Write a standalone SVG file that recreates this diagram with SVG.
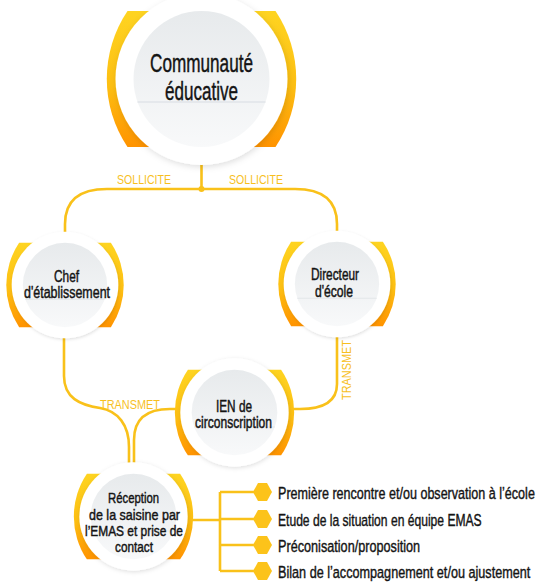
<svg xmlns="http://www.w3.org/2000/svg" xmlns:xlink="http://www.w3.org/1999/xlink" width="537" height="582" viewBox="0 0 537 582">
<style>
.ln{fill:none;stroke:#f9c11a;stroke-width:2.6}
.t{font-family:"Liberation Sans","Noto Sans",Arial,sans-serif;fill:#141414;stroke:#141414;stroke-width:0.45;text-anchor:middle}
.lab{font-family:"Liberation Sans","Noto Sans",Arial,sans-serif;fill:#f7bf1e;font-size:12.5px;text-anchor:middle}
.li{font-family:"Liberation Sans","Noto Sans",Arial,sans-serif;fill:#141414;stroke:#141414;stroke-width:0.4;font-size:16.5px}
.hex{fill:#fcc31a}
</style>
<defs>
<linearGradient id="gy" x1="0" y1="0" x2="0" y2="1">
<stop offset="0" stop-color="#fed421"/>
<stop offset="0.55" stop-color="#fdbf12"/>
<stop offset="1" stop-color="#ff9300"/>
</linearGradient>
<linearGradient id="gg" x1="0" y1="0" x2="0" y2="1">
<stop offset="0" stop-color="#e7eaec"/>
<stop offset="1" stop-color="#f8f9fa"/>
</linearGradient>
<filter id="sh" x="-30%" y="-30%" width="160%" height="160%">
<feDropShadow dx="1" dy="2" stdDeviation="3" flood-color="#000" flood-opacity="0.13"/>
</filter>
<g id="bubble">
<path d="M -74,-68 A 122 122 0 0 0 -74,68 L 0,68 L 0,-68 Z" fill="url(#gy)"/>
<path d="M 74,-68 A 122 122 0 0 1 74,68 L 0,68 L 0,-68 Z" fill="url(#gy)"/>
<circle r="86" fill="#ffffff" filter="url(#sh)"/>
<circle r="68" fill="url(#gg)"/>
<line x1="-64" y1="23" x2="64" y2="23" stroke="#e1e5e8" stroke-width="1.5"/>
</g>
</defs>
<rect width="537" height="582" fill="#ffffff"/>

<g id="connectors">
<path class="ln" d="M201.5,150 V189"/>
<path class="ln" d="M65,240 V224 C65,200 80,189 107,189 H295 C322,189 337,200 337,224 V240"/>
<circle cx="201.5" cy="189" r="3" fill="#f9c11a"/>
<path class="ln" d="M64,320 V376 C64,398 80,405 100,408 C118,411 129,425 129,447 V475"/>
<path class="ln" d="M200,409 H170 C148,409 134,418 134,440 V475"/>
<path class="ln" d="M337,330 V384 C337,401 325,409 300,409 H270"/>
<path class="ln" d="M170,520 H220 M220,492 V571 M220,492 H255 M220,519 H255 M220,545 H255 M220,571 H255"/>
</g>

<g id="labels">
<text class="lab" x="144" y="184" textLength="54" lengthAdjust="spacingAndGlyphs">SOLLICITE</text>
<text class="lab" x="256" y="184" textLength="54" lengthAdjust="spacingAndGlyphs">SOLLICITE</text>
<text class="lab" x="130" y="409" textLength="60" lengthAdjust="spacingAndGlyphs">TRANSMET</text>
<text class="lab" transform="translate(351,370) rotate(-90)" x="0" y="0" textLength="60" lengthAdjust="spacingAndGlyphs">TRANSMET</text>
</g>

<g id="node-communaute" transform="translate(201.5,79)">
<use xlink:href="#bubble" href="#bubble"/>
<text class="t" x="0" y="-7" font-size="26" stroke-width="0.6" textLength="103" lengthAdjust="spacingAndGlyphs">Communauté</text>
<text class="t" x="0" y="21" font-size="26" stroke-width="0.6" textLength="73" lengthAdjust="spacingAndGlyphs">éducative</text>
</g>

<g id="node-chef" transform="translate(65,285)">
<use xlink:href="#bubble" href="#bubble" transform="scale(0.62)"/>
<text class="t" x="1.5" y="-3.5" font-size="16" textLength="25" lengthAdjust="spacingAndGlyphs">Chef</text>
<text class="t" x="2" y="12.5" font-size="16" textLength="86" lengthAdjust="spacingAndGlyphs">d'établissement</text>
</g>

<g id="node-directeur" transform="translate(337,284)">
<use xlink:href="#bubble" href="#bubble" transform="scale(0.62)"/>
<text class="t" x="-2" y="-4" font-size="16" textLength="48" lengthAdjust="spacingAndGlyphs">Directeur</text>
<text class="t" x="-3" y="13" font-size="16" textLength="38" lengthAdjust="spacingAndGlyphs">d'école</text>
</g>

<g id="node-ien" transform="translate(234.5,412.5)">
<use xlink:href="#bubble" href="#bubble" transform="scale(0.63)"/>
<text class="t" x="-0.5" y="-1" font-size="16" textLength="36" lengthAdjust="spacingAndGlyphs">IEN de</text>
<text class="t" x="-1" y="15" font-size="16" textLength="77" lengthAdjust="spacingAndGlyphs">circonscription</text>
</g>

<g id="node-reception" transform="translate(133.5,516.5)">
<use xlink:href="#bubble" href="#bubble" transform="scale(0.63)"/>
<text class="t" x="0" y="-13.5" font-size="15.5" textLength="51" lengthAdjust="spacingAndGlyphs">Réception</text>
<text class="t" x="1" y="3.5" font-size="15.5" textLength="91" lengthAdjust="spacingAndGlyphs">de la saisine par</text>
<text class="t" x="0.5" y="19" font-size="15.5" textLength="98" lengthAdjust="spacingAndGlyphs">l’EMAS et prise de</text>
<text class="t" x="0.5" y="35.5" font-size="15.5" textLength="38" lengthAdjust="spacingAndGlyphs">contact</text>
</g>

<g id="list">
<polygon class="hex" points="253,492 258,483 267,483 272,492 267,501 258,501"/>
<polygon class="hex" points="253,519 258,510 267,510 272,519 267,528 258,528"/>
<polygon class="hex" points="253,545 258,536 267,536 272,545 267,554 258,554"/>
<polygon class="hex" points="253,571 258,562 267,562 272,571 267,580 258,580"/>
<text class="li" transform="translate(278,499) scale(0.76,1)" x="0" y="0" textLength="338" lengthAdjust="spacingAndGlyphs">Première rencontre et/ou observation à l’école</text>
<text class="li" transform="translate(278,526) scale(0.76,1)" x="0" y="0" textLength="268" lengthAdjust="spacingAndGlyphs">Etude de la situation en équipe EMAS</text>
<text class="li" transform="translate(278,552) scale(0.76,1)" x="0" y="0" textLength="187" lengthAdjust="spacingAndGlyphs">Préconisation/proposition</text>
<text class="li" transform="translate(278,578) scale(0.76,1)" x="0" y="0" textLength="332" lengthAdjust="spacingAndGlyphs">Bilan de l’accompagnement et/ou ajustement</text>
</g>
</svg>
